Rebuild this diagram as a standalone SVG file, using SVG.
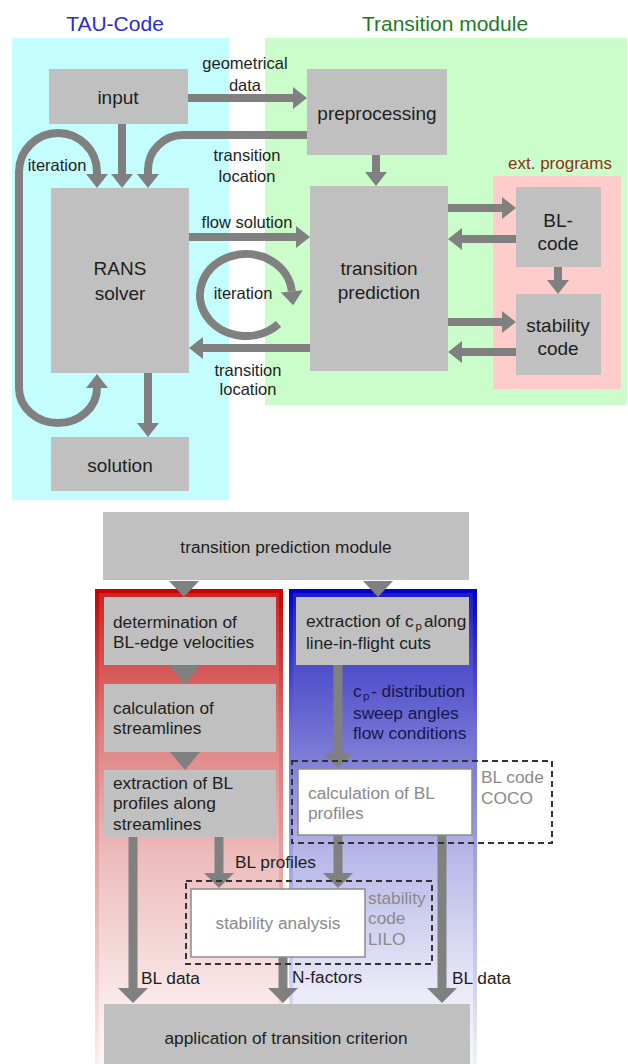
<svg xmlns="http://www.w3.org/2000/svg" width="628" height="1064" viewBox="0 0 628 1064">
<defs>
<style>
text{font-family:"Liberation Sans",Arial,sans-serif;fill:#1e1e1e}
.n{font-size:19px;text-anchor:middle}
.l{font-size:16.5px;text-anchor:middle}
.b{font-size:17.3px}
.bc{font-size:17.3px;text-anchor:middle}
.sub{font-size:11.5px}
.g{fill:#8a8a8a}
.nv{fill:#161650}
.box{fill:#c0c0c0}
.wbox{fill:#ffffff;stroke:#8c8c8c;stroke-width:1.5}
.dash{fill:none;stroke:#333;stroke-width:2;stroke-dasharray:6 4}
.a{fill:none;stroke:#808080;stroke-width:8;marker-end:url(#h)}
.ab{fill:none;stroke:#808080;stroke-width:9;marker-end:url(#hb)}
.hd{fill:#808080}
</style>
<marker id="h" markerUnits="userSpaceOnUse" markerWidth="14" markerHeight="22" refX="0" refY="11" orient="auto-start-reverse" overflow="visible">
<path d="M0,0 L14,11 L0,22 Z" fill="#808080"/>
</marker>
<marker id="hb" markerUnits="userSpaceOnUse" markerWidth="15" markerHeight="30" refX="0" refY="15" orient="auto" overflow="visible">
<path d="M0,0 L15,15 L0,30 Z" fill="#808080"/>
</marker>
<linearGradient id="rf" gradientUnits="userSpaceOnUse" x1="0" y1="589" x2="0" y2="1064">
<stop offset="0" stop-color="#cc2020"/>
<stop offset="0.12" stop-color="#d24848"/>
<stop offset="0.32" stop-color="#df8484"/>
<stop offset="0.56" stop-color="#edbcbc"/>
<stop offset="0.85" stop-color="#f9e6e6"/>
<stop offset="1" stop-color="#fdf6f6"/>
</linearGradient>
<linearGradient id="rs" gradientUnits="userSpaceOnUse" x1="0" y1="589" x2="0" y2="1064">
<stop offset="0" stop-color="#c80000"/>
<stop offset="0.3" stop-color="#dc7070"/>
<stop offset="1" stop-color="#fbeeee"/>
</linearGradient>
<linearGradient id="bf" gradientUnits="userSpaceOnUse" x1="0" y1="589" x2="0" y2="1064">
<stop offset="0" stop-color="#1818c8"/>
<stop offset="0.12" stop-color="#4444c8"/>
<stop offset="0.32" stop-color="#7474d4"/>
<stop offset="0.56" stop-color="#b8b8e8"/>
<stop offset="0.85" stop-color="#eaeaf8"/>
<stop offset="1" stop-color="#f6f6fc"/>
</linearGradient>
<linearGradient id="bs" gradientUnits="userSpaceOnUse" x1="0" y1="589" x2="0" y2="1064">
<stop offset="0" stop-color="#0000c8"/>
<stop offset="0.3" stop-color="#7070d4"/>
<stop offset="1" stop-color="#f0f0fa"/>
</linearGradient>
</defs>

<!-- top backgrounds -->
<g id="bg-top">
<rect x="12" y="38" width="217" height="462" fill="#c4fdfd"/>
<rect x="265" y="38" width="362" height="367" fill="#cbfdcb"/>
<rect x="493" y="176" width="128" height="213" fill="#ffcccc"/>
<text x="115" y="31" style="font-size:21px;text-anchor:middle;fill:#2b2bd0">TAU-Code</text>
<text x="445" y="31" style="font-size:21px;text-anchor:middle;fill:#1f7a1f">Transition module</text>
<text x="560" y="169" style="font-size:17px;text-anchor:middle;fill:#8b3318">ext. programs</text>
</g>

<!-- bottom columns -->
<g id="bg-bottom">
<rect x="97" y="591" width="184" height="480" fill="url(#rf)" stroke="url(#rs)" stroke-width="4"/>
<rect x="291" y="591" width="184" height="480" fill="url(#bf)" stroke="url(#bs)" stroke-width="4"/>
</g>

<g id="connectors">
<path class="a" d="M188,98 H293"/>
<path class="a" d="M122,124 V174"/>
<path class="a" d="M307,135 H183 A35,35 0 0 0 148,170 V174"/>
<path class="a" style="marker-start:url(#h)" d="M97,174 L97,172 A39,39 0 0 0 19,172 V388 A39,35 0 0 0 97,388"/>
<path class="a" d="M189,237 H296"/>
<path class="a" d="M278.5,324 A46,41 0 1 1 291.8,291.4"/>
<path class="a" d="M310,348 H203"/>
<path class="a" d="M148,373 V423"/>
<path class="a" d="M376,155 V172"/>
<path class="a" d="M448,208 H502"/>
<path class="a" d="M516,239 H462"/>
<path class="a" d="M558,267 V280"/>
<path class="a" d="M448,322 H502"/>
<path class="a" d="M516,352 H462"/>

<polygon class="hd" points="169,581 199,581 184,597"/>
<polygon class="hd" points="363,581 393,581 378,597"/>
<polygon class="hd" points="170,666 200,666 185,684"/>
<polygon class="hd" points="170,752 200,752 185,770"/>
<path class="ab" d="M338,665 V753"/>
<path class="ab" d="M133,837 V988"/>
<path class="ab" d="M219,837 V873"/>
<path class="ab" d="M338,835 V873"/>
<path class="ab" d="M283,957 V988"/>
<path class="ab" d="M442,835 V988"/>
</g>

<g id="labels">
<text class="l" x="245" y="69">geometrical</text>
<text class="l" x="245" y="91">data</text>
<text class="l" x="247" y="161">transition</text>
<text class="l" x="247" y="182">location</text>
<text class="l" x="57" y="171">iteration</text>
<text class="l" x="247" y="228">flow solution</text>
<text class="l" x="243" y="299">iteration</text>
<text class="l" x="248" y="376">transition</text>
<text class="l" x="248" y="395">location</text>
<text class="b nv" x="353" y="697">c</text>
<text class="sub nv" x="363" y="699.5">p</text>
<text class="b nv" x="371" y="697">- distribution</text>
<text class="b nv" x="353" y="719">sweep angles</text>
<text class="b nv" x="353" y="739">flow conditions</text>
<text class="b" x="235" y="868">BL profiles</text>
<text class="b" x="292" y="983">N-factors</text>
<text class="b" x="141" y="984">BL data</text>
<text class="b" x="452" y="984">BL data</text>
</g>

<g id="input"><rect class="box" x="49" y="69" width="139" height="55"/><text class="n" x="118" y="104">input</text></g>
<g id="preprocessing"><rect class="box" x="307" y="69" width="140" height="86"/><text class="n" x="377" y="120">preprocessing</text></g>
<g id="rans"><rect class="box" x="51" y="188" width="138" height="185"/><text class="n" x="120" y="275">RANS</text><text class="n" x="120" y="300">solver</text></g>
<g id="transition-prediction"><rect class="box" x="310" y="186" width="138" height="185"/><text class="n" x="379" y="275">transition</text><text class="n" x="379" y="299">prediction</text></g>
<g id="bl-code"><rect class="box" x="516" y="187" width="85" height="80"/><text class="n" x="558" y="227">BL-</text><text class="n" x="558" y="250">code</text></g>
<g id="stability-code"><rect class="box" x="516" y="294" width="85" height="81"/><text class="n" x="558" y="332">stability</text><text class="n" x="558" y="355">code</text></g>
<g id="solution"><rect class="box" x="51" y="437" width="138" height="54"/><text class="n" x="120" y="472">solution</text></g>

<g id="tp-module"><rect class="box" x="103" y="512" width="366" height="68"/><text class="bc" x="286" y="553">transition prediction module</text></g>
<g id="determination"><rect class="box" x="104" y="597" width="172" height="68"/><text class="b" x="113" y="628">determination of</text><text class="b" x="113" y="648">BL-edge velocities</text></g>
<g id="calc-streamlines"><rect class="box" x="104" y="684" width="172" height="68"/><text class="b" x="113" y="714">calculation of</text><text class="b" x="113" y="734">streamlines</text></g>
<g id="extraction-bl"><rect class="box" x="104" y="770" width="172" height="67"/><text class="b" x="113" y="789">extraction of BL</text><text class="b" x="113" y="809">profiles along</text><text class="b" x="113" y="830">streamlines</text></g>
<g id="extraction-cp"><rect class="box" x="296" y="597" width="173" height="68"/><text class="b" x="306" y="627">extraction of c</text><text class="sub" x="415.5" y="629.5">p</text><text class="b" x="424" y="627">along</text><text class="b" x="306" y="649">line-in-flight cuts</text></g>
<g id="coco"><rect class="dash" x="292" y="761" width="260" height="82"/><rect class="wbox" x="298" y="769" width="174" height="66"/><text class="b g" x="308" y="799">calculation of BL</text><text class="b g" x="308" y="819">profiles</text><text class="b g" x="481" y="783">BL code</text><text class="b g" x="481" y="804">COCO</text></g>
<g id="lilo"><rect class="dash" x="186" y="881" width="246" height="83"/><rect class="wbox" x="191" y="889" width="174" height="68"/><text class="bc g" x="278" y="929">stability analysis</text><text class="b g" x="368" y="904">stability</text><text class="b g" x="368" y="924">code</text><text class="b g" x="368" y="945">LILO</text></g>
<g id="application"><rect class="box" x="104" y="1004" width="366" height="60"/><text class="bc" x="286" y="1044">application of transition criterion</text></g>
</svg>
